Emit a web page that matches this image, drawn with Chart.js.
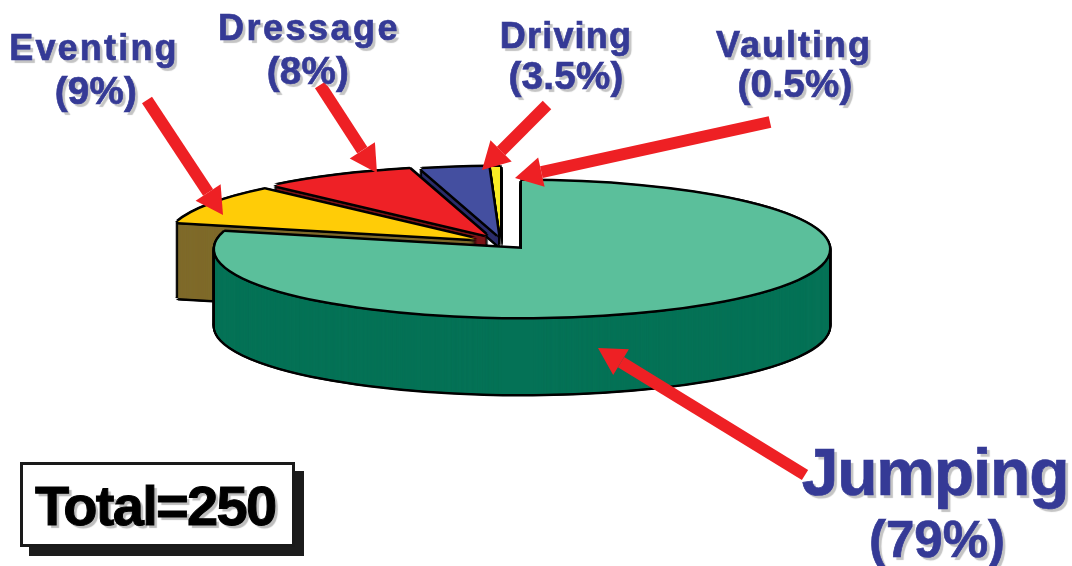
<!DOCTYPE html>
<html lang="en">
<head>
    <meta charset="UTF-8">
    <title>Disciplines</title>
    <script src="https://cdn.jsdelivr.net/npm/chart.js"></script>
    <style>
        body {
            margin: 0;
            background: #fff;
            font-family: "Liberation Sans", Arial, sans-serif;
            overflow: hidden;
        }

        #wrap {
            position: relative;
            width: 1072px;
            height: 566px;
            overflow: hidden;
        }

        .label {
            position: absolute;
            transform: translateX(-50%);
            white-space: nowrap;
            font-weight: bold;
            line-height: 1;
            color: #353a96;
            -webkit-text-stroke: 0.7px #353a96;
            text-shadow: 3px 3px 1px #c4c4c4;
        }

        #totalBox {
            position: absolute;
            left: 20px;
            top: 462px;
            width: 269px;
            height: 79px;
            border: 3px solid #1a1a1a;
            background: #fff;
            box-shadow: 9px 9px 0 #1c1c1c;
        }

        #totalText {
            position: absolute;
            left: 35px;
            top: 478px;
            font-size: 56px;
            line-height: 1;
            font-weight: bold;
            letter-spacing: -1.7px;
            color: #000;
            -webkit-text-stroke: 1px #000;
            text-shadow: 3px 3px 1px #bdbdbd;
            white-space: nowrap;
        }
    </style>
</head>
<body>
    <div id="wrap">
        <canvas id="pie"></canvas>
        <div id="totalBox"></div>
        <div id="totalText">Total=250</div>
    </div>

    <script>
        // values, clockwise from 12 o'clock
        const categories = ['Jumping', 'Eventing', 'Dressage', 'Driving', 'Vaulting'];
        const percents = [79, 9, 8, 3.5, 0.5];
        const total = 250;

        const topColors = ['#5bbf9b', '#ffcc07', '#ee2126', '#444fa0', '#f9ec24'];
        const sideColors = ['#057256', '#7f6a2a', '#7d1518', '#2b2c6a', '#7b7640'];

        // tilted pie: where the flattened disc sits on the page
        const discX = 522, discY = 249, discRx = 307, discRy = 68;
        const shiftX = [0, -47, -36, -24, -22];   // exploded slices
        const shiftY = [0, -10, -14, -14, -14];
        const depths = [77, 76, 12, 10, 12];
        const paintOrder = [4, 3, 2, 1, 0];       // back to front

        // label lines: centre x, baseline y, font size, letter spacing
        const labelStyle = [
            [[935, 495, 66, -1.2], [937, 557, 51, 0]],
            [[94, 60, 36, 2.2], [96, 105, 38.5, 0.3]],
            [[309, 40, 36, 2.5], [308, 85, 38.5, 0.3]],
            [[566, 48, 36, 1.2], [566, 90, 38.5, 0.3]],
            [[794, 57, 36, 2], [795, 98, 38.5, 0.3]]
        ];

        // tail x, tail y, tip x, tip y
        const arrows = [
            [147, 100, 223, 215],
            [320, 85, 377, 173],
            [547, 105, 482, 170],
            [770, 122, 515, 178],
            [805, 475, 598, 348]
        ];

        const outline = [[-2.5, 0], [2.5, 0], [0, -2.5], [0, 2.5], [-1.8, -1.8], [1.8, -1.8], [-1.8, 1.8], [1.8, 1.8]];

        function drawArc(ctx, arc, color, x, y) {
            const saved = arc.options;
            arc.options = { ...saved, backgroundColor: color };
            ctx.save();
            ctx.translate(x, y);
            ctx.scale(discRx / arc.outerRadius, discRy / arc.outerRadius);
            ctx.translate(-arc.x, -arc.y);
            arc.draw(ctx);
            ctx.restore();
            arc.options = saved;
        }

        function drawArrow(ctx, a) {
            const [x0, y0, x1, y1] = a;
            const len = Math.hypot(x1 - x0, y1 - y0);
            const ux = (x1 - x0) / len, uy = (y1 - y0) / len;
            const bx = x1 - ux * 27, by = y1 - uy * 27;
            ctx.strokeStyle = '#ee2024';
            ctx.fillStyle = '#ee2024';
            ctx.lineWidth = 12;
            ctx.beginPath();
            ctx.moveTo(x0, y0);
            ctx.lineTo(bx, by);
            ctx.stroke();
            ctx.beginPath();
            ctx.moveTo(x1, y1);
            ctx.lineTo(bx - uy * 15, by + ux * 15);
            ctx.lineTo(bx + uy * 15, by - ux * 15);
            ctx.closePath();
            ctx.fill();
        }

        const tiltedPie = {
            id: 'tiltedPie',
            beforeDatasetsDraw(chart) {
                const ctx = chart.ctx;
                const arcs = chart.getDatasetMeta(0).data;
                paintOrder.forEach(i => {
                    const x = discX + shiftX[i], y = discY + shiftY[i];
                    // outline round the side wall, then the wall, then the top
                    for (let d = depths[i]; d >= 0; d--) {
                        drawArc(ctx, arcs[i], '#000', x - 2.5, y + d);
                        drawArc(ctx, arcs[i], '#000', x + 2.5, y + d);
                    }
                    outline.forEach(o => drawArc(ctx, arcs[i], '#000', x + o[0], y + depths[i] + o[1]));
                    for (let d = depths[i]; d > 0; d -= 0.5) {
                        drawArc(ctx, arcs[i], sideColors[i], x, y + d);
                    }
                    outline.forEach(o => drawArc(ctx, arcs[i], '#000', x + o[0], y + o[1]));
                    drawArc(ctx, arcs[i], topColors[i], x, y);
                });
                return false;
            },
            afterDraw(chart) {
                arrows.forEach(a => drawArrow(chart.ctx, a));
            }
        };

        new Chart(document.getElementById('pie'), {
            type: 'pie',
            data: {
                labels: categories,
                datasets: [{
                    data: percents,
                    backgroundColor: topColors,
                    borderWidth: 0
                }]
            },
            options: {
                responsive: true,
                maintainAspectRatio: false,
                animation: false,
                events: [],
                plugins: {
                    legend: { display: false },
                    tooltip: { enabled: false }
                }
            },
            plugins: [tiltedPie]
        });

        // text labels
        const wrap = document.getElementById('wrap');
        categories.forEach((name, i) => {
            [name, '(' + percents[i] + '%)'].forEach((text, line) => {
                const [cx, base, size, spacing] = labelStyle[i][line];
                const el = document.createElement('div');
                el.className = 'label';
                el.textContent = text;
                el.style.left = cx + 'px';
                el.style.top = (base - size * 0.8465) + 'px';
                el.style.fontSize = size + 'px';
                el.style.letterSpacing = spacing + 'px';
                wrap.appendChild(el);
            });
        });
        document.getElementById('totalText').textContent = 'Total=' + total;
    </script>
</body>
</html>
